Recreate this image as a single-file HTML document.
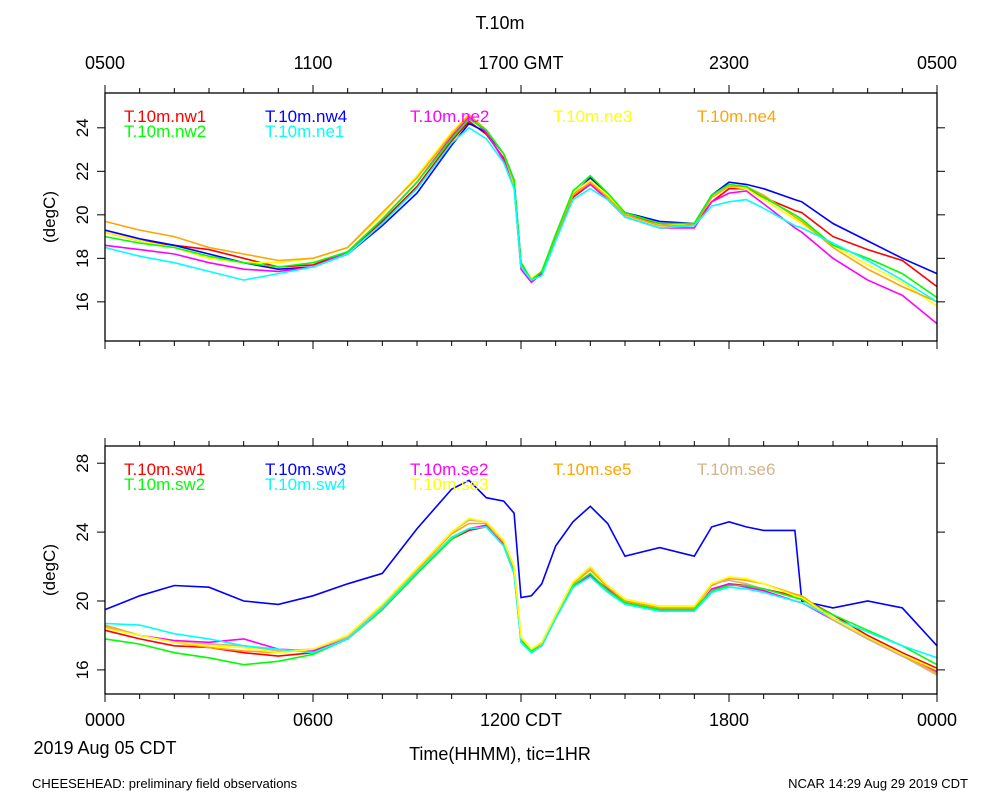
<!DOCTYPE html>
<html><head><meta charset="utf-8"><style>
body{margin:0;background:#fff;}
svg{display:block;font-family:"Liberation Sans",sans-serif;}
</style></head><body>
<svg id="c" width="1000" height="800"></svg>
<script>
const times=[0,1,2,3,4,5,6,7,8,9,10,10.5,11,11.5,11.8,12,12.3,12.6,13,13.5,14,14.5,15,16,17,17.5,18,18.5,19,19.9,20.1,21,22,23,24];
const topNames=["T.10m.nw1","T.10m.nw4","T.10m.ne2","T.10m.ne3","T.10m.ne4","T.10m.nw2","T.10m.ne1"];
const topColors=["#ff0000","#0000ff","#ff00ff","#ffff00","#ffa500","#00ff00","#00ffff"];
const nw1=[19.2,18.8,18.6,18.4,18.0,17.6,17.7,18.3,19.7,21.3,23.4,24.3,23.7,22.6,21.4,17.6,17.0,17.3,19.0,20.8,21.4,20.8,20.0,19.6,19.5,20.6,21.2,21.2,20.8,20.2,20.1,19.0,18.4,17.9,16.7];
const nw4=[19.3,18.9,18.6,18.2,17.8,17.5,17.6,18.2,19.5,21.0,23.2,24.2,23.8,22.8,21.6,17.8,17.0,17.3,19.0,20.9,21.7,20.9,20.1,19.7,19.6,20.9,21.5,21.4,21.2,20.7,20.6,19.6,18.8,18.0,17.3];
const ne2=[18.6,18.4,18.2,17.8,17.5,17.4,17.6,18.3,19.8,21.5,23.6,24.5,23.8,22.5,21.3,17.5,16.9,17.3,19.1,20.9,21.4,20.7,19.9,19.4,19.4,20.6,21.0,21.1,20.5,19.4,19.2,18.0,17.0,16.3,15.0];
const ne3=[19.2,18.8,18.5,18.0,17.8,17.8,18.0,18.5,20.0,21.8,23.8,24.6,23.9,22.8,21.4,17.7,17.1,17.4,19.1,21.0,21.6,20.9,20.0,19.5,19.6,20.8,21.3,21.2,20.7,19.8,19.6,18.6,17.7,16.9,15.8];
const ne4=[19.7,19.3,19.0,18.5,18.2,17.9,18.0,18.5,20.1,21.7,23.7,24.6,23.9,22.8,21.5,17.7,17.0,17.4,19.0,20.9,21.5,20.8,20.0,19.5,19.5,20.8,21.3,21.3,20.9,19.9,19.7,18.5,17.5,16.7,16.0];
const nw2=[19.0,18.7,18.5,18.1,17.8,17.6,17.8,18.3,19.8,21.5,23.5,24.4,23.9,22.8,21.6,17.8,17.0,17.4,19.1,21.1,21.8,21.0,20.1,19.6,19.6,20.9,21.4,21.3,20.8,20.0,19.8,18.6,18.0,17.3,16.2];
const ne1=[18.5,18.1,17.8,17.4,17.0,17.3,17.6,18.2,19.6,21.2,23.3,24.0,23.5,22.4,21.2,17.6,17.0,17.2,18.8,20.7,21.2,20.7,19.9,19.4,19.5,20.4,20.6,20.7,20.3,19.5,19.4,18.7,17.9,17.0,16.0];
const topSeries=[nw1,nw4,ne2,ne3,ne4,nw2,ne1];

const botNames=["T.10m.sw1","T.10m.sw3","T.10m.se2","T.10m.se5","T.10m.se6","T.10m.sw2","T.10m.sw4","T.10m.se3"];
const botColors=["#ff0000","#0000ff","#ff00ff","#ffa500","#d2b48c","#00ff00","#00ffff","#ffff00"];
const sw1=[18.3,17.8,17.4,17.3,17.0,16.8,17.0,17.8,19.5,21.6,23.6,24.1,24.3,23.3,21.7,17.7,17.1,17.4,19.0,20.8,21.5,20.6,19.9,19.5,19.5,20.6,21.0,20.9,20.7,20.3,20.2,19.2,18.0,17.0,16.1];
const sw3=[19.5,20.3,20.9,20.8,20.0,19.8,20.3,21.0,21.6,24.2,26.5,27.0,26.0,25.8,25.1,20.2,20.3,21.0,23.2,24.6,25.5,24.5,22.6,23.1,22.6,24.3,24.6,24.3,24.1,24.1,20.0,19.6,20.0,19.6,17.4];
const se2=[18.5,18.0,17.7,17.6,17.8,17.2,17.1,17.8,19.5,21.6,23.7,24.2,24.4,23.2,21.6,17.6,17.0,17.4,19.0,20.9,21.5,20.7,19.9,19.5,19.4,20.7,21.0,20.8,20.6,20.0,19.9,18.9,17.8,16.8,15.9];
const se5=[18.6,18.0,17.6,17.3,17.1,17.0,17.2,17.9,19.6,21.8,23.9,24.5,24.5,23.4,21.9,17.8,17.1,17.5,19.1,21.0,21.8,20.8,20.0,19.6,19.6,20.9,21.3,21.2,21.0,20.4,20.3,19.0,17.9,16.9,15.8];
const se6=[18.5,18.0,17.6,17.5,17.4,17.1,17.2,17.9,19.7,21.9,24.0,24.7,24.6,23.5,22.0,17.9,17.2,17.6,19.2,21.1,21.9,20.9,20.1,19.7,19.7,21.0,21.2,21.0,20.7,20.2,20.1,18.9,17.8,16.8,15.7];
const sw2=[17.8,17.5,17.0,16.7,16.3,16.5,16.9,17.8,19.5,21.6,23.6,24.2,24.3,23.2,21.6,17.7,17.1,17.4,19.0,20.9,21.6,20.6,19.9,19.5,19.5,20.6,20.9,20.9,20.7,20.2,20.1,19.2,18.3,17.4,16.3];
const sw4=[18.7,18.6,18.1,17.8,17.4,17.2,17.0,17.8,19.6,21.7,23.7,24.2,24.3,23.2,21.6,17.6,17.0,17.4,19.0,20.8,21.4,20.5,19.8,19.4,19.4,20.5,20.8,20.7,20.5,20.0,19.9,19.0,18.2,17.4,16.7];
const se3=[18.4,18.0,17.6,17.4,17.3,17.0,17.2,18.0,19.8,21.9,24.0,24.8,24.6,23.5,22.0,17.9,17.2,17.6,19.2,21.1,22.0,20.9,20.1,19.7,19.7,21.0,21.4,21.3,21.0,20.3,20.2,19.0,17.9,16.9,16.0];
const botSeries=[sw1,sw3,se2,se5,se6,sw2,sw4,se3];

const topTicks=[16,18,20,22,24];
const botTicks=[16,20,24,28];
const xLabelsTop=["0500","1100","1700 GMT","2300","0500"];
const xLabelsBot=["0000","0600","1200 CDT","1800","0000"];

const svg=document.getElementById('c');
const NS="http://www.w3.org/2000/svg";
function mk(tag,attrs,parent){const e=document.createElementNS(NS,tag);for(const k in attrs)e.setAttribute(k,attrs[k]);(parent||svg).appendChild(e);return e;}
const X0=105,X1=937;
const xs=h=>X0+(X1-X0)*h/24;

function panel(y0,y1,vmin,vmax,ticks,series,names,colors,pname,legendY){
  const ys=v=>y1-(v-vmin)/(vmax-vmin)*(y1-y0);
  const g=mk('g',{});
  
  
  series.forEach((s,i)=>{
    const d=s.map((v,j)=>(j?'L':'M')+xs(times[j]).toFixed(1)+','+ys(v).toFixed(1)).join('');
    const p=mk('path',{d:d,fill:'none',stroke:colors[i],'stroke-width':1.6},g);
    
    
  });
  const fr=mk('rect',{x:X0,y:y0,width:X1-X0,height:y1-y0,fill:'none',stroke:'#000','stroke-width':1.3},g);
  
  
  for(let h=0;h<=24;h++){
    const L=h%6===0?8:5;
    mk('line',{x1:xs(h),x2:xs(h),y1:y0,y2:y0-L,stroke:'#000'},g);
    mk('line',{x1:xs(h),x2:xs(h),y1:y1,y2:y1+L,stroke:'#000'},g);
  }
  ticks.forEach(v=>{
    const y=ys(v);
    mk('line',{x1:X0,x2:X0-8,y1:y,y2:y,stroke:'#000'},g);
    mk('line',{x1:X1,x2:X1+8,y1:y,y2:y,stroke:'#000'},g);
    const t=mk('text',{x:X0-24,y:y+7,'font-size':17,'text-anchor':'middle',transform:`rotate(-90 ${X0-24} ${y})`},g);
    t.textContent=v;
    
    
  });
  const yt=mk('text',{x:55,y:(y0+y1)/2,'font-size':17,'text-anchor':'middle',transform:`rotate(-90 55 ${(y0+y1)/2})`},g);
  yt.textContent='(degC)';
  
  
  const cols=[124,265,410,553,697];
  names.forEach((n,i)=>{
    const c=i<5?i:i-5, r=i<5?0:1;
    const t=mk('text',{x:cols[c],y:legendY+r*15,'font-size':17,fill:colors[i]},g);
    t.textContent=n;
    
    
  });
}
panel(93,341,14.2,25.6,topTicks,topSeries,topNames,topColors,'top-panel',122);
panel(446,694,14.6,29.0,botTicks,botSeries,botNames,botColors,'bottom-panel',475);

function txt(x,y,s,size,anchor,name){const t=mk('text',{x:x,y:y,'font-size':size,'text-anchor':anchor||'middle'});t.textContent=s;return t;}
txt(500,29,'T.10m',18,'middle','chart-title');
xLabelsTop.forEach((s,i)=>txt(xs(i*6),69,s,18,'middle','top-x-tick-label'));
xLabelsBot.forEach((s,i)=>txt(xs(i*6),726,s,18,'middle','bottom-x-tick-label'));
txt(105,754,'2019 Aug 05 CDT',18,'middle','date-label');
txt(500,760,'Time(HHMM), tic=1HR',18,'middle','x-axis-title');
txt(32,788,'CHEESEHEAD: preliminary field observations',13,'start','footer-left');
txt(968,788,'NCAR 14:29 Aug 29 2019 CDT',13,'end','footer-right');
</script>
</body></html>
